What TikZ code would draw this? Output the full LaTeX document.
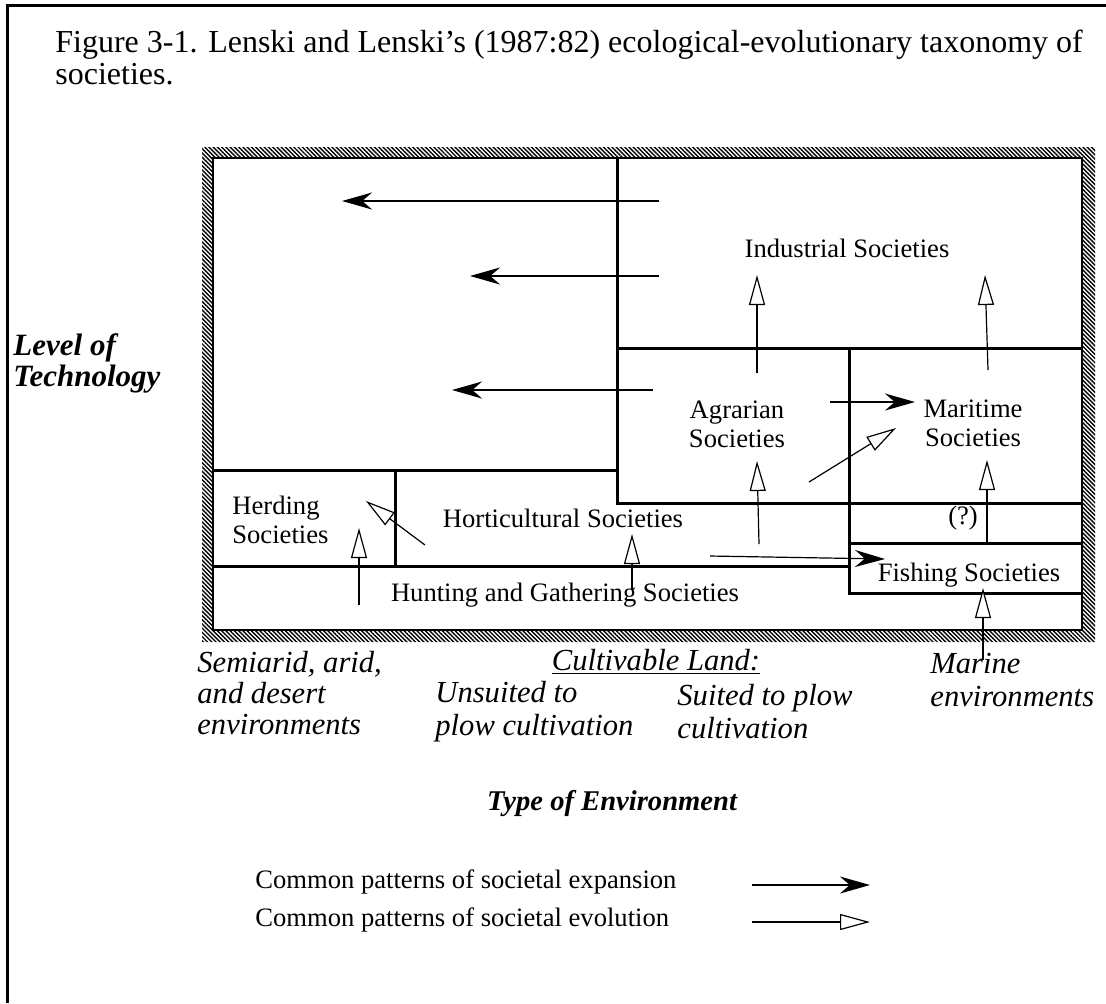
\documentclass[tikz,border=0pt]{standalone}
\usepackage{fontspec}
\setmainfont{Liberation Serif}
\usetikzlibrary{arrows.meta}
\usetikzlibrary{patterns.meta}

\begin{document}
\begin{tikzpicture}[x=0.5pt,y=-0.5pt,
    wall/.style={line width=1.5pt},
    expand/.style={line width=1pt,-{Stealth[length=15pt,width=8.5pt]}},
    evolve/.style={line width=0.6pt,-{Triangle[length=15pt,width=8pt,fill=white,line width=0.6pt]}},
    soc/.style={font=\fontsize{13.3}{14.5}\selectfont,align=center,inner sep=0pt},
    env/.style={font=\fontsize{15.3}{16.5}\selectfont\itshape,align=left,inner sep=0pt,anchor=west},
    axis/.style={font=\fontsize{15.5}{15.5}\selectfont\bfseries\itshape,align=left,inner sep=0pt}]

    \useasboundingbox (0,0) rectangle (1106,1003);
    % \draw [help lines, step=50] (0,0) grid (1106,1003);

    % page frame and caption
    \draw[wall] (7,1003) -- (7,5) -- (1106,5);
    \node (cap) [anchor=base west,inner sep=0pt,font=\fontsize{16}{13.5}\selectfont] at (55,52)
        {Figure 3-1. Lenski and Lenski’s (1987:82) ecological-evolutionary taxonomy of};
    \node (cap2) [anchor=base west,inner sep=0pt,font=\fontsize{16}{13.5}\selectfont] at (55,84) {societies.};

    % hatched frame
    \fill[pattern={Lines[angle=-45,distance=1.5pt,line width=0.7pt]},even odd rule]
        (202,147) rectangle (1095,642) (213,158) rectangle (1082,630);
    \draw[line width=1pt] (213,158) rectangle (1082,630);

    % dividing walls
    \draw[wall] (617,158) -- (617,503) -- (1082,503);
    \draw[wall] (617,348) -- (1082,348);
    \draw[wall] (849,348) -- (849,593) -- (1082,593);
    \draw[wall] (849,543) -- (1082,543);
    \draw[wall] (213,566) -- (849,566);
    \draw[wall] (213,470) -- (617,470);
    \draw[wall] (395,470) -- (395,566);

    % societies
    \node (ind) [soc] at (847,248) {Industrial Societies};
    \node (agr) [soc] at (737,424) {Agrarian\\Societies};
    \node (mar) [soc] at (973,423) {Maritime\\Societies};
    \node (her) [soc,align=left,anchor=west] at (232,520) {Herding\\Societies};
    \node (hor) [soc] at (563,518) {Horticultural Societies};
    \node (hun) [soc] at (565,595) {Hunting and Gathering Societies};
    \node (fis) [soc] at (969,575) {Fishing Societies};
    \node (unk) [soc] at (963,518) {(?)};

    % axis labels
    \node (lev) [axis,anchor=west] at (13,363) {Level of\\Technology};
    \node (typ) [axis,font=\fontsize{14.3}{15}\selectfont\bfseries\itshape] at (612,803) {Type of Environment};

    % environments
    \node (sem) [env,font=\fontsize{15.3}{15.3}\selectfont\itshape] at (197,693) {Semiarid, arid,\\and desert\\environments};
    \node (cul) [env,anchor=center] at (656,662) {\underline{Cultivable Land:}};
    \node (uns) [env] at (435,712) {Unsuited to\\plow cultivation};
    \node (sui) [env] at (677,712) {Suited to plow\\cultivation};
    \node (mae) [env] at (930,680) {Marine\\environments};

    % arrow ends
    \coordinate (x1a) at (659,201); \coordinate (x1b) at (342,201);
    \coordinate (x2a) at (659,276); \coordinate (x2b) at (470,276);
    \coordinate (x3a) at (653,390); \coordinate (x3b) at (452,390);
    \coordinate (x4a) at (830,402); \coordinate (x4b) at (915,402);
    \coordinate (x5a) at (710,556); \coordinate (x5b) at (885,559);

    \coordinate (e1a) at (359,605); \coordinate (e1b) at (359,528);
    \coordinate (e2a) at (632,590); \coordinate (e2b) at (632,534);
    \coordinate (e3a) at (425,545); \coordinate (e3b) at (366,501);
    \coordinate (e4a) at (759,544); \coordinate (e4b) at (757,461);
    \coordinate (e5a) at (757,373); \coordinate (e5b) at (757,275);
    \coordinate (e6a) at (988,370); \coordinate (e6b) at (985,275);
    \coordinate (e7a) at (809,482); \coordinate (e7b) at (896,428);
    \coordinate (e8a) at (987,545); \coordinate (e8b) at (987,460);
    \coordinate (e9a) at (983,660); \coordinate (e9b) at (983,588);

    % expansion
    \draw[expand] (x1a) -- (x1b);
    \draw[expand] (x2a) -- (x2b);
    \draw[expand] (x3a) -- (x3b);
    \draw[expand] (x4a) -- (x4b);
    \draw[expand,line width=0.6pt] (x5a) -- (x5b);

    % evolution
    \draw[evolve] (e1a) -- (e1b);
    \draw[evolve] (e2a) -- (e2b);
    \draw[evolve] (e3a) -- (e3b);
    \draw[evolve] (e4a) -- (e4b);
    \draw[evolve] (e5a) -- (e5b);
    \draw[evolve] (e6a) -- (e6b);
    \draw[evolve] (e7a) -- (e7b);
    \draw[evolve] (e8a) -- (e8b);
    \draw[evolve] (e9a) -- (e9b);

    % legend
    \node (lg1) [soc,anchor=west] at (255,882) {Common patterns of societal expansion};
    \node (lg2) [soc,anchor=west] at (255,920) {Common patterns of societal evolution};
    \coordinate (l1a) at (752,885); \coordinate (l1b) at (870,885);
    \coordinate (l2a) at (752,922); \coordinate (l2b) at (870,922);
    \draw[expand] (l1a) -- (l1b);
    \draw[evolve] (l2a) -- (l2b);
\end{tikzpicture}
\end{document}
